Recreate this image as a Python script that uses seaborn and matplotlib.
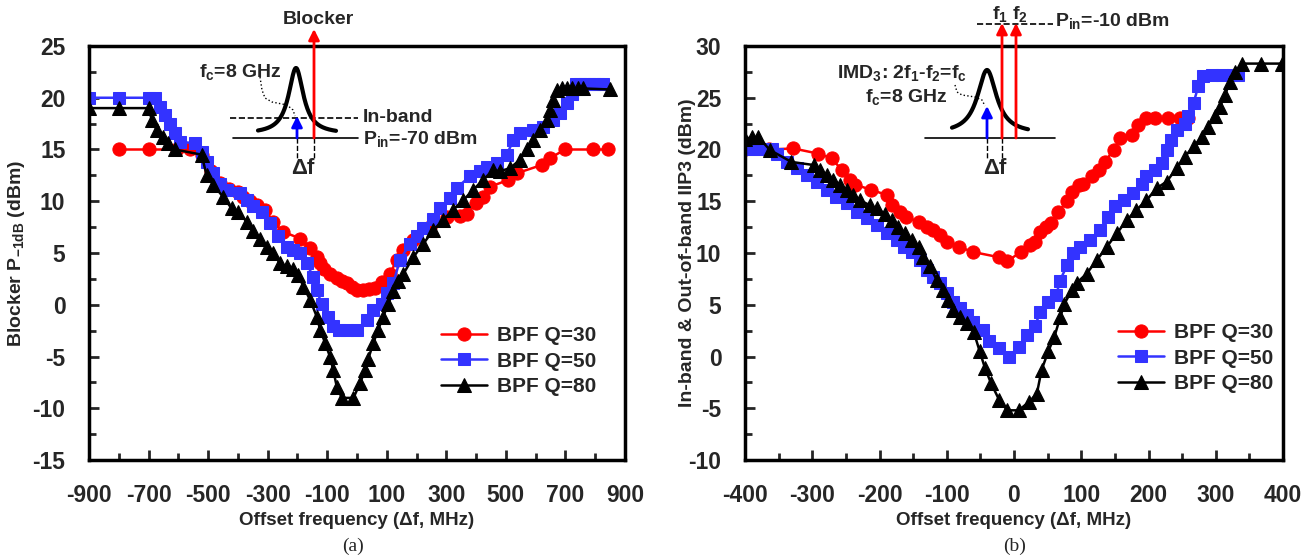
import numpy as np
import pandas as pd
import matplotlib
matplotlib.use("Agg")
import matplotlib.pyplot as plt
import seaborn as sns
from matplotlib import font_manager
from matplotlib.ticker import MultipleLocator

# ---------------- (a) blocker P-1dB ----------------
a_q30_f = [-800, -700, -604, -560, -520, -490, -460, -430, -400, -382, -360, -337, -309, -281, -248,
           -191, -158, -135, -124, -110, -91, -68, -50, -35, -18, -1, 21, 40, 60, 83, 111, 133, 155,
           189, 245, 301, 346, 368, 401, 423, 446, 508, 536, 620, 648, 698, 794, 844]
a_q30_v = [15, 15, 15, 15, 14.5, 12.9, 11.8, 11.2, 10.9, 10.4, 10.0, 9.6, 9.15, 8.0, 7.05,
           6.4, 5.45, 4.6, 4.0, 3.5, 3.0, 2.55, 2.3, 2.1, 1.7, 1.4, 1.4, 1.5, 1.6, 2.2, 3.0, 4.3, 5.3,
           6.3, 7.5, 8.5, 8.6, 8.8, 9.8, 10.4, 11.4, 12.05, 12.7, 13.5, 14.15, 15.0, 15.0, 15.0]

a_q50_f = [-900, -800, -700, -680, -662, -645, -628, -611, -594, -544, -522, -505, -483, -460, -438,
           -393, -370, -348, -320, -292, -264, -236, -214, -191, -169, -147, -135, -119, -96, -80,
           -60, -35, -1, 32, 55, 83, 100, 122, 144, 178, 200, 223, 256, 279, 312, 335, 379, 413,
           436, 469, 503, 525, 547, 592, 626, 659, 682, 704, 721, 735, 750, 765, 780, 795, 810, 825]
a_q50_v = [20, 20, 20, 20, 19.1, 18.3, 17.5, 16.6, 15.75, 15.6, 14.8, 13.8, 12.7, 11.7, 11.1,
           10.8, 10.1, 9.5, 9.0, 7.9, 6.6, 5.6, 5.3, 5.0, 4.0, 2.7, 1.4, 0.1, -1.2, -2.1,
           -2.4, -2.4, -2.4, -1.5, -0.5, 0.1, 1.1, 2.1, 4.3, 5.9, 6.6, 7.4, 8.3, 9.3, 10.3, 11.3, 12.4, 12.9,
           13.3, 13.7, 14.5, 15.9, 16.6, 16.9, 17.2, 17.85, 18.5, 19.5, 20.4, 21.3, 21.3, 21.3, 21.3, 21.3, 21.3, 21.3]

a_q80_f = [-900, -800, -700, -689, -673, -650, -634, -611, -522, -505, -483, -449, -421, -399, -370,
           -348, -326, -303, -281, -259, -236, -214, -197, -180, -158, -135, -124, -107, -91, -80,
           -68, -51, -12, 10, 27, 38, 55, 71, 88, 105, 122, 139, 156, 189, 223, 256, 290, 323, 357,
           390, 423, 457, 480, 514, 547, 570, 592, 614, 637, 648, 659, 671, 687, 705, 723, 741, 760, 850]
a_q80_v = [19, 19, 19, 17.85, 16.9, 16.2, 15.6, 15.0, 14.5, 12.5, 11.6, 10.4, 9.3, 9.0, 8.0,
           7.1, 6.4, 5.6, 5.0, 4.0, 3.7, 3.5, 2.9, 1.75, 0.5, -1.15, -2.4, -3.7, -5.0, -6.3,
           -7.9, -9.0, -9.0, -7.6, -6.3, -5.2, -3.7, -2.4, -1.15, 0.1, 1.3, 2.3, 3.0, 4.6, 5.9, 7.2, 8.2, 9.2, 10.1,
           11.1, 12.05, 13.0, 12.9, 13.2, 14.0, 15.0, 15.9, 16.9, 17.85, 18.8, 19.8, 20.75, 20.9, 20.9, 20.9, 20.9, 20.9, 20.8]

# ---------------- (b) IIP3 ----------------
b_q30_f = [-400, -365, -328, -291, -271, -256, -244, -236, -212, -189, -182, -170, -160, -142, -130,
           -120, -110, -100, -82, -61, -23, -10, 10, 24, 31, 38, 48, 55, 66, 79, 86, 97, 103, 116,
           126, 135, 148, 158, 175, 185, 197, 210, 229, 247, 259]
b_q30_v = [20, 20, 20.1, 19.6, 19.15, 18.0, 17.05, 16.6, 16.1, 15.6, 14.6, 14.0, 13.5, 13.0, 12.5,
           12.2, 11.7, 11.1, 10.6, 10.1, 9.6, 9.2, 10.1, 10.8, 11.1, 12.05, 12.5, 12.9, 14.0, 15.0, 15.9, 16.6, 16.7, 17.4,
           18.0, 18.8, 19.95, 21.1, 21.4, 22.4, 23.0, 23.0, 23.0, 23.0, 23.0]

b_q50_f = [-400, -390, -380, -370, -360, -353, -338, -323, -308, -293, -278, -264, -249, -234, -219,
           -204, -189, -174, -164, -152, -140, -130, -120, -110, -100, -90, -80, -70, -61, -46, -37,
           -22, -7, 7, 19, 31, 39, 51, 63, 68, 79, 88, 98, 113, 128, 140, 150, 163, 177, 190, 197,
           210, 220, 227, 234, 242, 254, 259, 267, 274, 281, 295, 310, 325, 333]
b_q50_v = [20, 20, 20, 20, 20, 19.6, 18.8, 18.2, 17.5, 16.9, 16.1, 15.4, 14.8, 14.0, 13.4,
           12.7, 11.9, 11.25, 10.6, 10.1, 9.3, 8.4, 7.7, 7.1, 6.1, 5.3, 4.65, 4.0, 3.35, 2.55, 1.45,
           0.8, 0.0, 0.95, 2.1, 2.9, 4.3, 5.3, 5.9, 7.3, 8.8, 10.0, 10.6, 11.3, 12.2, 13.5, 14.5, 15.1, 15.8, 16.7, 17.4,
           18.0, 18.7, 19.95, 20.9, 21.9, 22.5, 23.2, 24.5, 26.1, 27.1, 27.2, 27.2, 27.2, 27.2]

b_q80_f = [-400, -390, -380, -363, -331, -298, -288, -278, -269, -259, -249, -239, -229, -214, -204,
           -192, -182, -172, -162, -152, -142, -135, -125, -115, -105, -98, -90, -80, -70, -60, -51,
           -43, -34, -22, -10, 7, 22, 34, 41, 51, 60, 69, 75, 86, 93, 108, 123, 138, 153, 168, 182,
           197, 212, 227, 242, 254, 267, 279, 289, 299, 306, 314, 321, 329, 339, 368, 398]
b_q80_v = [21, 21.2, 21.2, 19.95, 18.8, 18.5, 18.0, 17.5, 17.05, 16.6, 16.1, 15.6, 15.1, 14.6, 14.3,
           13.8, 13.2, 12.5, 11.9, 11.25, 10.6, 9.6, 8.7, 7.4, 6.4, 5.5, 4.5, 3.85, 3.2, 2.4, 0.5,
           -1.15, -2.6, -4.2, -5.2, -5.2, -4.4, -3.6, -1.3, 0.5, 1.9, 3.85, 5.1, 6.4, 7.1, 8.0, 9.3, 10.6, 11.9, 13.2, 14.15,
           15.1, 16.25, 16.9, 18.2, 19.3, 20.3, 21.2, 22.2, 23.2, 24.1, 25.3, 26.55, 27.5, 28.3, 28.3, 28.3]

labels = ["BPF Q=30", "BPF Q=50", "BPF Q=80"]
colors = ["#ff0000", "#3333ff", "#000000"]
markers = ["o", "s", "^"]
msizes = [9.5, 8.5, 9.5]

sns.set_style("ticks")
names = {f.name for f in font_manager.fontManager.ttflist}
narrow = "Liberation Sans Narrow" if "Liberation Sans Narrow" in names else "Liberation Sans"
plt.rcParams["font.family"] = [narrow, "DejaVu Sans"]
plt.rcParams["font.weight"] = "bold"
plt.rcParams["axes.unicode_minus"] = False
plt.rcParams["mathtext.default"] = "regular"

W, H = 1316, 560
fig = plt.figure(figsize=(W / 100, H / 100), dpi=100)
ax1 = fig.add_axes([89 / W, 1 - 460 / H, 536 / W, 414 / H])
ax2 = fig.add_axes([745 / W, 1 - 460 / H, 538 / W, 414 / H])


def draw(ax, f, v, i):
    df = pd.DataFrame({"f": f, "v": v})
    sns.lineplot(data=df, x="f", y="v", ax=ax, color=colors[i], marker=markers[i],
                 markersize=msizes[i], markeredgecolor=colors[i], linewidth=1.8,
                 estimator=None, sort=False, label=labels[i])


for i, (f, v) in enumerate([(a_q30_f, a_q30_v), (a_q50_f, a_q50_v), (a_q80_f, a_q80_v)]):
    draw(ax1, f, v, i)
for i, (f, v) in enumerate([(b_q30_f, b_q30_v), (b_q50_f, b_q50_v), (b_q80_f, b_q80_v)]):
    draw(ax2, f, v, i)

ax1.set_xlim(-900, 900)
ax1.set_ylim(-15, 25)
ax1.set_xticks(range(-900, 901, 200))
ax1.xaxis.set_minor_locator(MultipleLocator(100))
ax1.set_yticks(range(-15, 26, 5))
ax1.yaxis.set_minor_locator(MultipleLocator(2.5))

ax2.set_xlim(-400, 400)
ax2.set_ylim(-10, 30)
ax2.set_xticks(range(-400, 401, 100))
ax2.xaxis.set_minor_locator(MultipleLocator(50))
ax2.set_yticks(range(-10, 31, 5))
ax2.yaxis.set_minor_locator(MultipleLocator(2.5))

for ax in (ax1, ax2):
    for s in ax.spines.values():
        s.set_linewidth(2.5)
        s.set_color("black")
        s.set_visible(True)
    ax.tick_params(which="both", direction="in", width=2, labelsize=16.5, pad=17)
    ax.tick_params(which="major", length=7)
    ax.tick_params(which="minor", length=5)
    ax.tick_params(top=False, right=False, which="both")
    ax.set_xlabel("Offset frequency (\u0394f, MHz)", fontsize=13.5, fontweight="bold")
    ax.xaxis.set_label_coords(0.5, -0.125)
    ax.grid(False)

ax1.set_ylabel("Blocker P$_{-1dB}$ (dBm)", fontsize=14, fontweight="bold")
ax1.yaxis.set_label_coords(-0.115, 0.5)
ax2.set_ylabel("In-band & Out-of-band IIP3 (dBm)", fontsize=14, fontweight="bold")
ax2.yaxis.set_label_coords(-0.091, 0.5)

leg_kw = dict(frameon=False, fontsize=15, loc="upper left", handlelength=2.2,
              handletextpad=0.5, labelspacing=0.32, borderpad=0, borderaxespad=0)
ax1.legend(bbox_to_anchor=(441 / W, 1 - 326 / H), bbox_transform=fig.transFigure, **leg_kw)
ax2.legend(bbox_to_anchor=(1118 / W, 1 - 323 / H), bbox_transform=fig.transFigure, **leg_kw)

fig.text(353 / W, 1 - 546 / H, "(a)", family="Liberation Serif", fontweight="normal",
         fontsize=14, ha="center", va="center")
fig.text(1015 / W, 1 - 546 / H, "(b)", family="Liberation Serif", fontweight="normal",
         fontsize=14, ha="center", va="center")

# ---------------- schematic insets (pixel space overlay) ----------------
ov = fig.add_axes([0, 0, 1, 1], zorder=10)
ov.set_xlim(0, W)
ov.set_ylim(H, 0)
ov.axis("off")
ov.patch.set_alpha(0)


def bump(xc, lo, hi, peak, base, w):
    x = np.linspace(lo, hi, 200)
    return x, base - (base - peak) / (1 + ((x - xc) / w) ** 2)


def varrow(x, y0, y1, c):
    ov.annotate("", xy=(x, y1), xytext=(x, y0),
                arrowprops=dict(arrowstyle="-|>", color=c, lw=2, mutation_scale=16,
                                shrinkA=0, shrinkB=0))


def delta(xl, xr, y, ytxt, xtxt):
    ov.plot([xl, xl], [138, 158], "k--", lw=1)
    ov.plot([xr, xr], [138, 158], "k--", lw=1)
    ov.annotate("", xy=(xl - 1, y), xytext=(xl - 14, y),
                arrowprops=dict(arrowstyle="->", lw=1, shrinkA=0, shrinkB=0))
    ov.annotate("", xy=(xr + 1, y), xytext=(xr + 14, y),
                arrowprops=dict(arrowstyle="->", lw=1, shrinkA=0, shrinkB=0))
    ov.text(xtxt, ytxt, "\u0394f", fontsize=16, ha="center", va="center")


# left inset
bx, by = bump(296, 258, 336, 68, 134, 9.0)
ov.plot(bx, by, "k-", lw=3, solid_capstyle="round")
ov.plot([230, 358], [118, 118], "k--", lw=1.2)
ov.plot([233, 358], [138, 138], "k-", lw=1.2)
varrow(314, 138, 29, "red")
varrow(297, 138, 116, "blue")
delta(297, 314, 155, 168, 303)
ov.plot([260, 262, 265, 272, 287, 293, 295], [77, 90, 98, 102, 105, 110, 116], "k:", lw=1)
ov.text(318, 20, "Blocker", fontsize=14, ha="center", va="center")
ov.text(240, 72, "f$_c$=8 GHz", fontsize=14, ha="center", va="center")
ov.text(363, 117, "In-band", fontsize=14, ha="left", va="center")
ov.text(363, 139, "P$_{in}$=-70 dBm", fontsize=14, ha="left", va="center")

# right inset
bx, by = bump(987, 952, 1028, 70, 134, 11.6)
ov.plot(bx, by, "k-", lw=3, solid_capstyle="round")
ov.plot([925, 1055], [138, 138], "k-", lw=1.2)
ov.plot([977, 1053], [24, 24], "k--", lw=1.2)
varrow(1002, 138, 23, "red")
varrow(1016, 138, 23, "red")
varrow(987, 138, 106, "blue")
delta(987, 1002, 156, 168, 995)
ov.plot([955, 957, 962, 975, 982, 985], [85, 92, 95, 97, 100, 106], "k:", lw=1)
ov.text(1000, 14, "f$_1$", fontsize=14, ha="center", va="center")
ov.text(1020, 14, "f$_2$", fontsize=14, ha="center", va="center")
ov.text(1055, 21, "P$_{in}$=-10 dBm", fontsize=14, ha="left", va="center")
ov.text(967, 73, "IMD$_3$: 2f$_1$-f$_2$=f$_c$", fontsize=14, ha="right", va="center")
ov.text(948, 97, "f$_c$=8 GHz", fontsize=14, ha="right", va="center")

fig.savefig("out.png", dpi=100)
